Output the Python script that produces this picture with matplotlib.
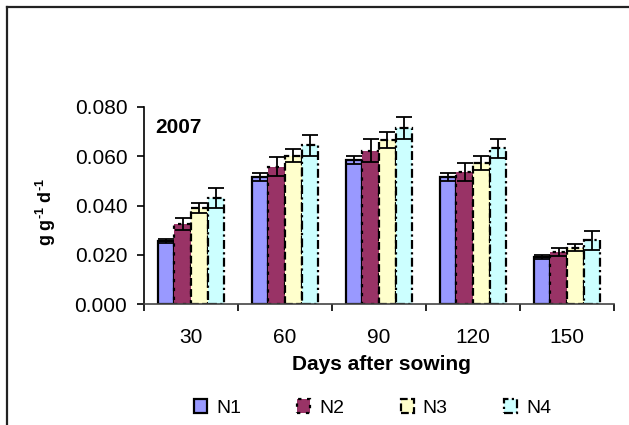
import matplotlib
matplotlib.use("Agg")
import matplotlib.pyplot as plt
import numpy as np
from matplotlib.patches import Patch
from matplotlib.lines import Line2D

plt.rcParams['font.family'] = ['Liberation Sans', 'DejaVu Sans']
plt.rcParams['mathtext.default'] = 'regular'

categories = ['30', '60', '90', '120', '150']
series_names = ['N1', 'N2', 'N3', 'N4']
n1 = [0.0257, 0.0515, 0.0585, 0.0515, 0.0190]
n2 = [0.0325, 0.0558, 0.0622, 0.0535, 0.0211]
n3 = [0.0390, 0.0603, 0.0665, 0.0572, 0.0229]
n4 = [0.0430, 0.0644, 0.0715, 0.0632, 0.0258]
n1_err = [0.0008, 0.0015, 0.0015, 0.0015, 0.0007]
n2_err = [0.0024, 0.0040, 0.0047, 0.0036, 0.0016]
n3_err = [0.0020, 0.0028, 0.0033, 0.0027, 0.0014]
n4_err = [0.0040, 0.0042, 0.0044, 0.0040, 0.0039]
yticks = [0.000, 0.020, 0.040, 0.060, 0.080]

values = [n1, n2, n3, n4]
errors = [n1_err, n2_err, n3_err, n4_err]
colors = ['#9999FF', '#993366', '#FFFFCC', '#CCFFFF']
styles = ['-', (0, (1.5, 2.5)), (0, (3.5, 1.5)), (0, (4, 1.5, 1, 1.5))]

fig = plt.figure(figsize=(6.29, 4.25), dpi=100)
ax = fig.add_axes([144/629, 1-304/425, (614-144)/629, (304-107)/425])

x = np.arange(len(categories))
w = 0.178
for i in range(4):
    pos = x + (i - 1.5) * w
    ax.bar(pos, values[i], width=w, color=colors[i], edgecolor='black',
           linewidth=1.6, linestyle=styles[i], zorder=2)
    ax.errorbar(pos, values[i], yerr=errors[i], fmt='none', ecolor='black',
                elinewidth=1.3, capsize=5.5, capthick=1.3, zorder=3)

ax.set_xlim(-0.5, 4.5)
ax.set_ylim(0, 0.08)
ax.set_yticks(yticks)
ax.set_yticklabels([f'{v:.3f}' for v in yticks], fontsize=15)
ax.set_xticks(x)
ax.set_xticklabels(categories, fontsize=15)
ax.tick_params(axis='x', which='major', length=0, pad=17)
ax.set_xticks(np.arange(-0.5, 5.0, 1.0), minor=True)
ax.tick_params(axis='x', which='minor', length=5, width=1.2, direction='out')
ax.tick_params(axis='y', length=5, width=1.2, direction='out', pad=7)
ax.spines['top'].set_visible(False)
ax.spines['right'].set_visible(False)
ax.spines['left'].set_linewidth(1.2)
ax.spines['bottom'].set_linewidth(1.2)
ax.spines['bottom'].set_color('#444444')

ax.text(0.0234, 0.895, '2007', transform=ax.transAxes, fontsize=15,
        fontweight='bold', va='center', ha='left')

fig.text(381/629, 1-364/425, 'Days after sowing', fontsize=15, fontweight='bold',
         ha='center', va='center')
fig.text(46/629, 1-212/425, 'g g$^{\u2010' + '1}$ d$^{\u2010' + '1}$', fontsize=13,
         fontweight='bold', rotation=90, ha='center', va='center')

handles = [Patch(facecolor=colors[i], edgecolor='black', linewidth=1.6,
                 linestyle=styles[i]) for i in range(4)]
leg = fig.legend(handles, series_names, loc='center', bbox_to_anchor=(372.5/629, 1-408/425),
                 ncol=4, frameon=False, fontsize=14, handlelength=0.67,
                 handleheight=0.67, handletextpad=0.46, columnspacing=2.9)

fig.add_artist(Line2D([7/629, 7/629], [0, 1-7/425], transform=fig.transFigure,
                      color='#222222', linewidth=1.6))
fig.add_artist(Line2D([7/629, 1], [1-7/425, 1-7/425], transform=fig.transFigure,
                      color='#222222', linewidth=1.6))

fig.savefig('out.png', dpi=100)
